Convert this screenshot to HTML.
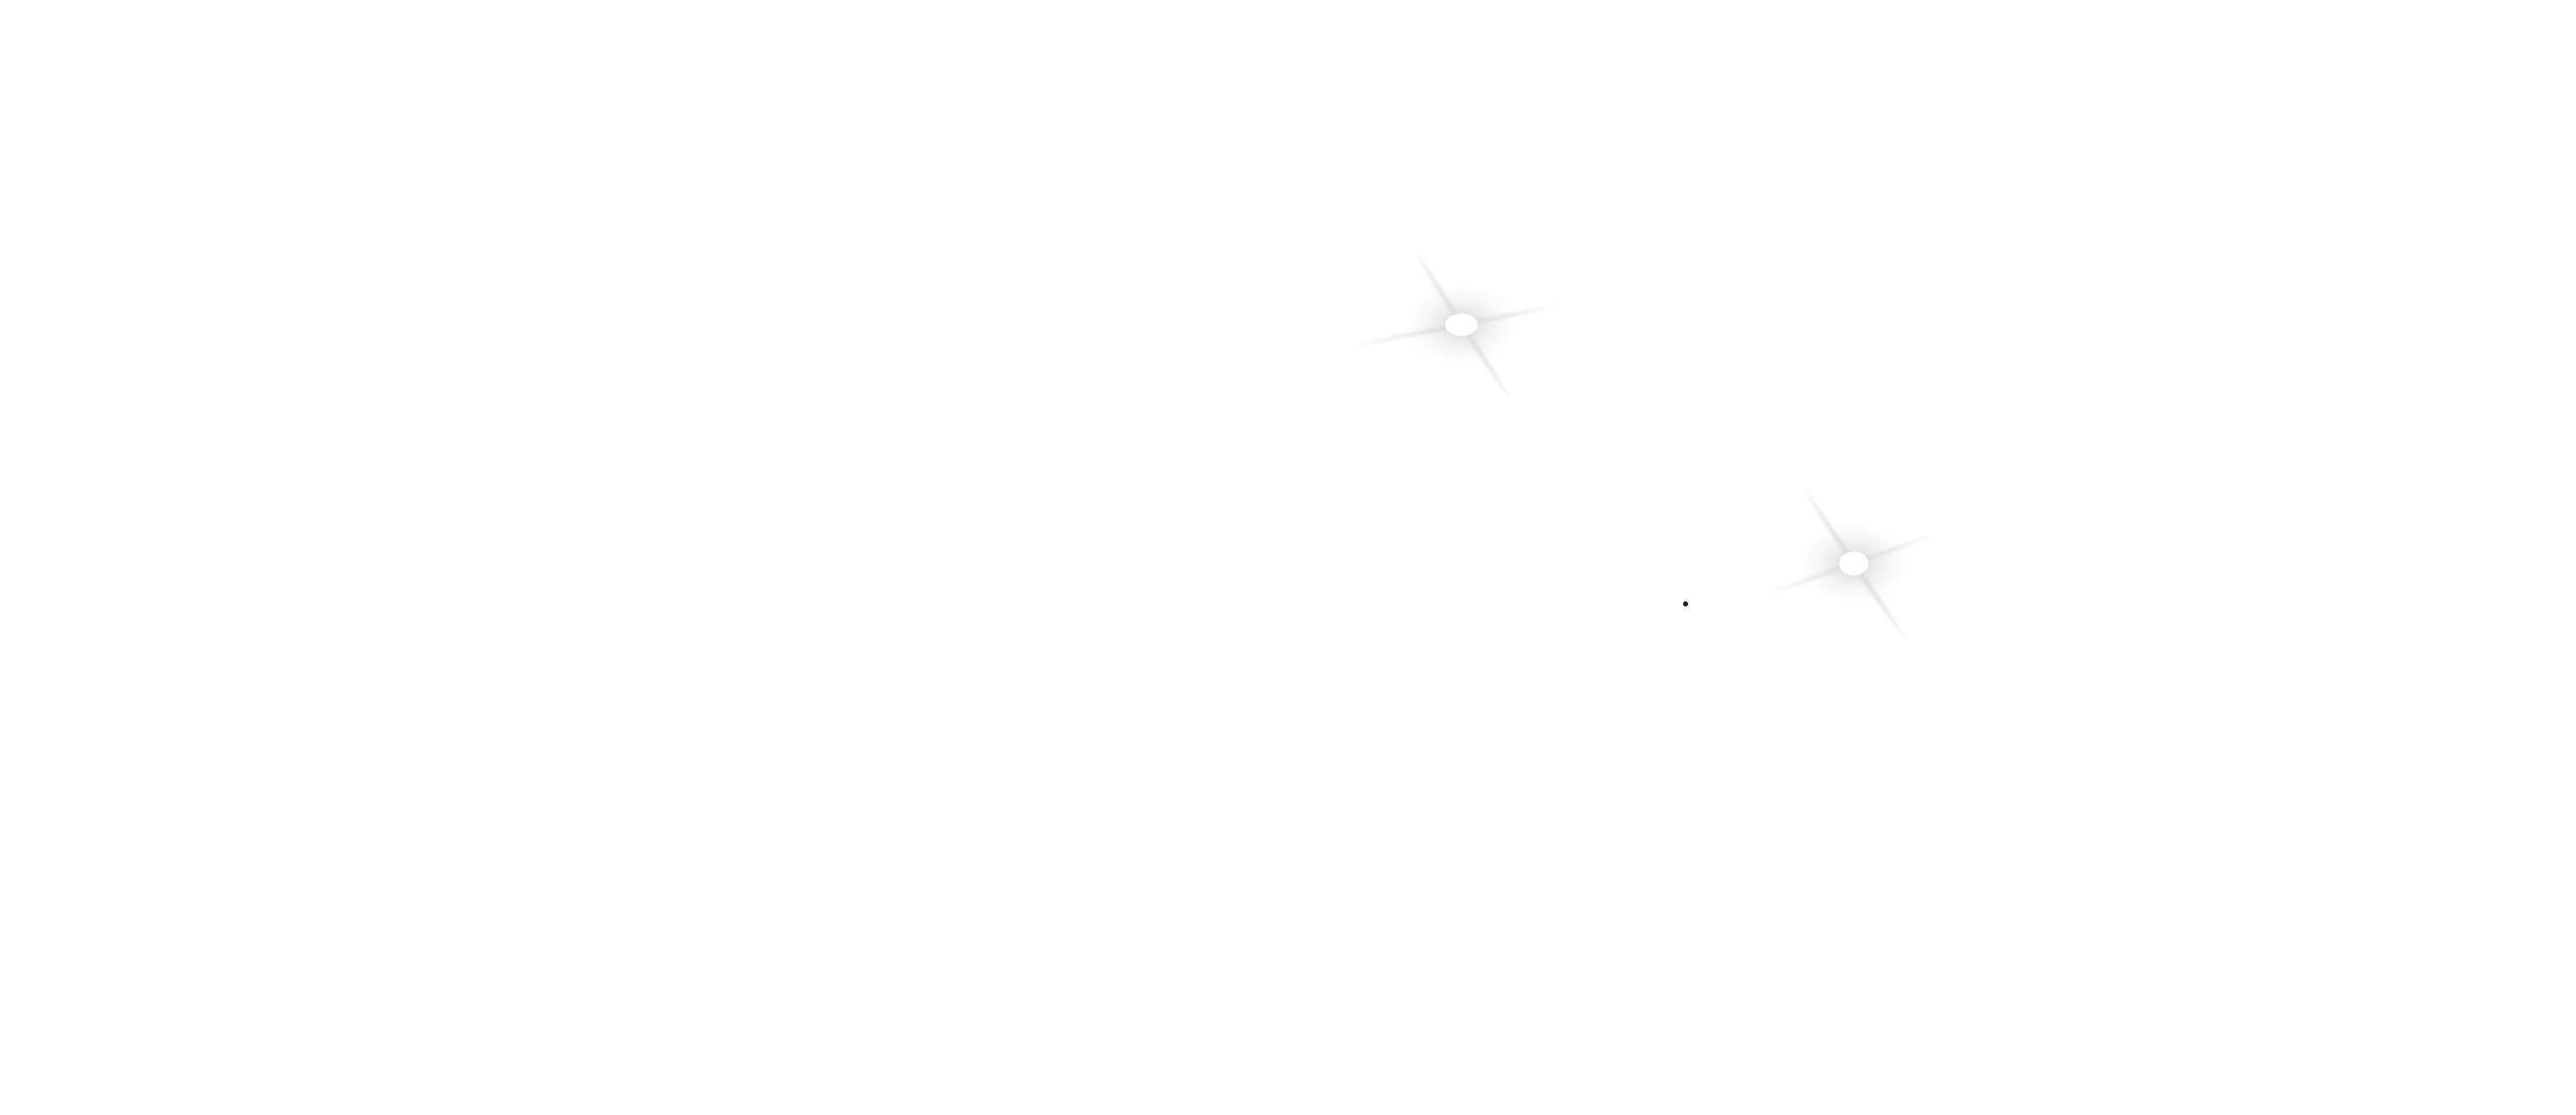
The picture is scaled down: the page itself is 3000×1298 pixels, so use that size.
<!DOCTYPE html>
<html><head><meta charset="utf-8"><style>html,body{margin:0;padding:0;background:#fff}svg{display:block}</style></head>
<body>
<svg width="3000" height="1298" viewBox="0 0 3000 1298" xmlns="http://www.w3.org/2000/svg">
<defs>
<radialGradient id="halo"><stop offset="0.25" stop-color="#e6e6e6"/><stop offset="1" stop-color="#fff" stop-opacity="0"/></radialGradient>
<filter id="b" x="-50%" y="-50%" width="200%" height="200%"><feGaussianBlur stdDeviation="2"/></filter>
</defs>
<rect width="3000" height="1298" fill="#fff"/>
<g>
<ellipse cx="1702" cy="378" rx="75" ry="55" fill="url(#halo)"/>
<g filter="url(#b)" fill="#dcdcdc">
<polygon points="1647,290 1705,376 1699,380"/>
<polygon points="1763,470 1705,376 1699,380"/>
<polygon points="1573,403 1703,375 1701,381"/>
<polygon points="1820,355 1703,375 1701,381"/>
</g>
<ellipse cx="1702" cy="378" rx="19" ry="13" fill="#fff"/>
</g>
<g>
<ellipse cx="2159" cy="656" rx="75" ry="55" fill="url(#halo)"/>
<g filter="url(#b)" fill="#dcdcdc">
<polygon points="2098,565 2162,654 2156,658"/>
<polygon points="2223,750 2162,654 2156,658"/>
<polygon points="2057,692 2160,653 2158,659"/>
<polygon points="2255,622 2160,653 2158,659"/>
</g>
<ellipse cx="2159" cy="656" rx="17" ry="14" fill="#fff"/>
</g>
<circle cx="1963" cy="703" r="3" fill="#222"/>
</svg>
</body></html>
